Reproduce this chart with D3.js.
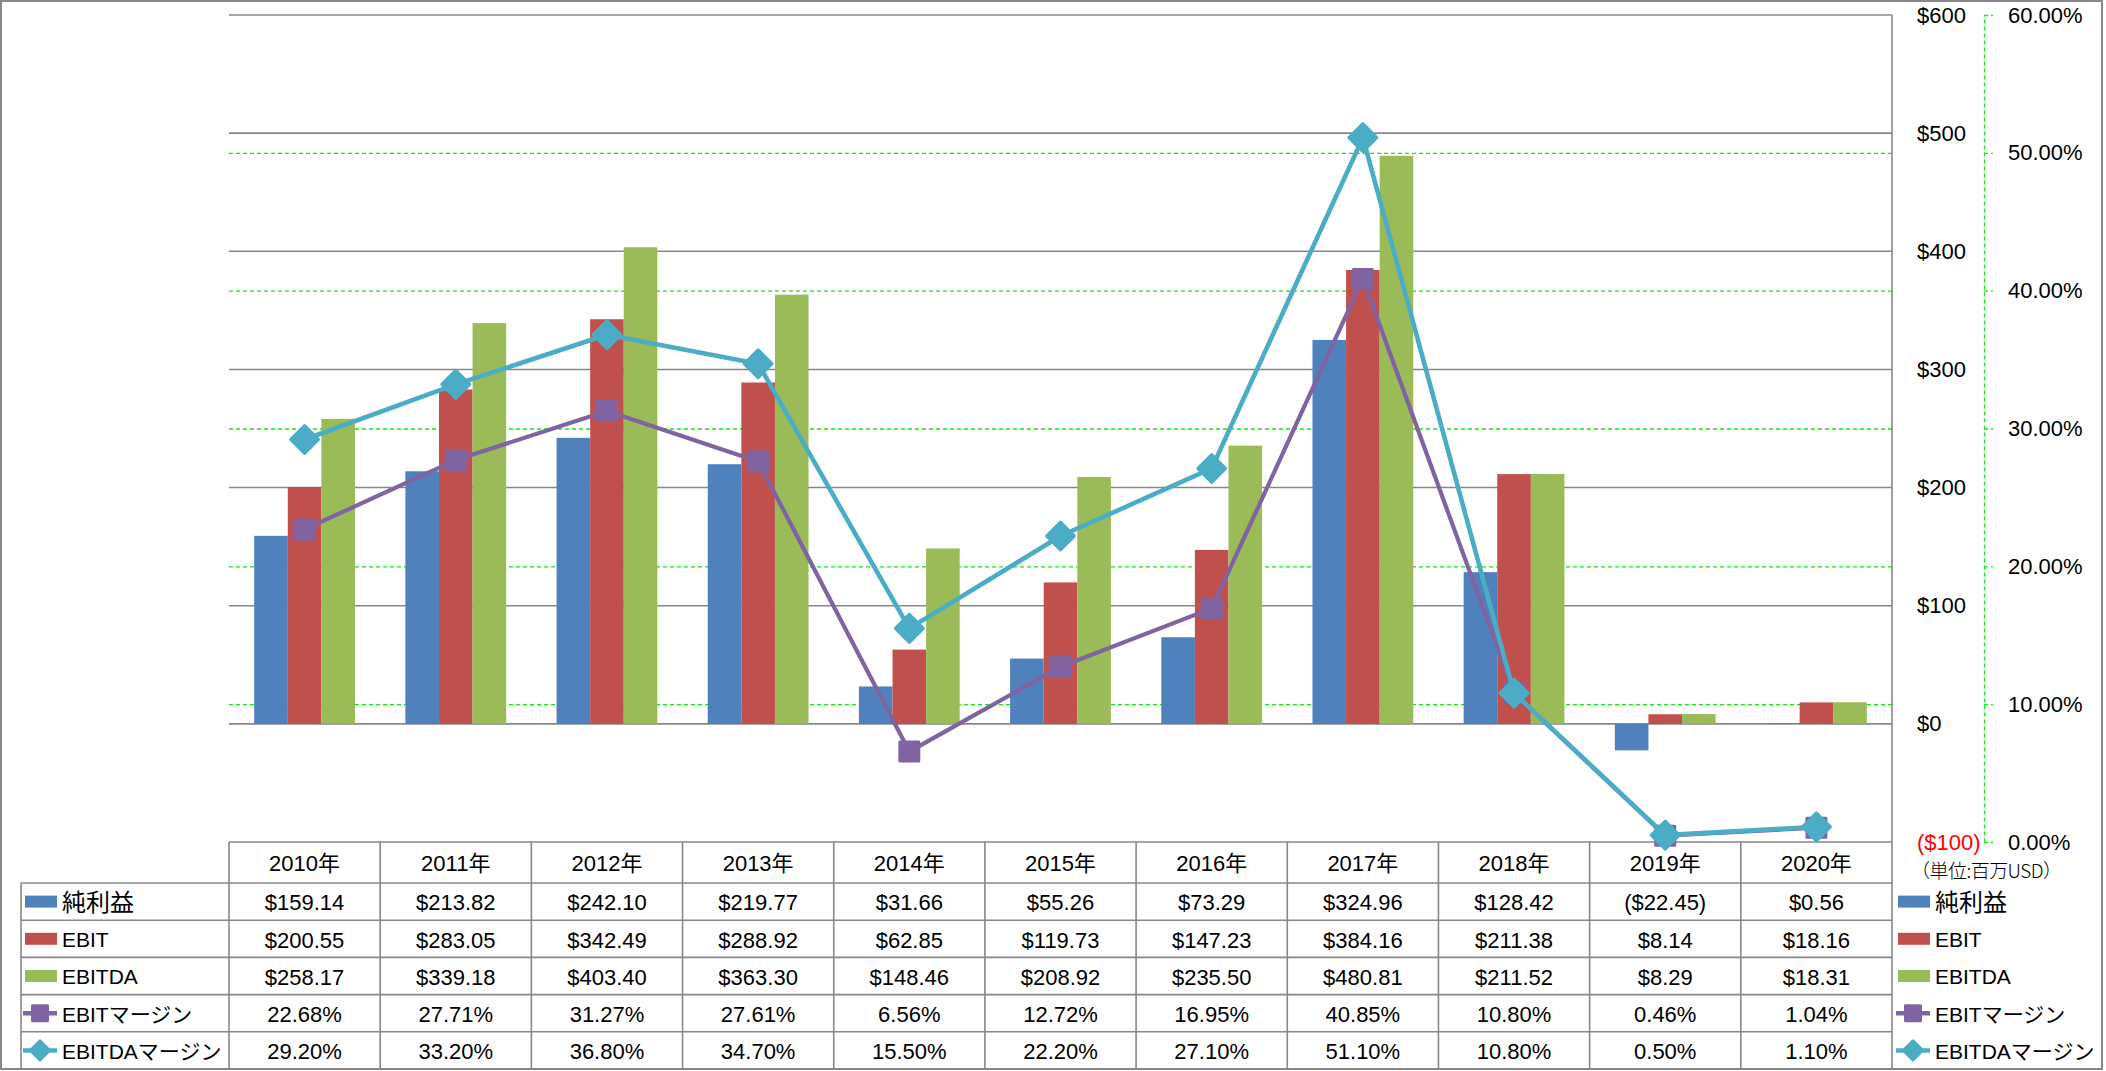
<!DOCTYPE html>
<html><head><meta charset="utf-8">
<script src="https://cdn.jsdelivr.net/npm/d3@7"></script>
<style>
html,body{margin:0;padding:0;background:#fff;}
svg text{font-family:"Liberation Sans","Noto Sans CJK JP",sans-serif;fill:#000;}
</style></head><body>
<svg id="chart" width="2106" height="1071"></svg>
<script>
// ---- data ----
const years = ["2010年","2011年","2012年","2013年","2014年","2015年","2016年","2017年","2018年","2019年","2020年"];
const netIncome = [159.14, 213.82, 242.10, 219.77, 31.66, 55.26, 73.29, 324.96, 128.42, -22.45, 0.56];
const ebit = [200.55, 283.05, 342.49, 288.92, 62.85, 119.73, 147.23, 384.16, 211.38, 8.14, 18.16];
const ebitda = [258.17, 339.18, 403.40, 363.30, 148.46, 208.92, 235.50, 480.81, 211.52, 8.29, 18.31];
const ebitMargin = [22.68, 27.71, 31.27, 27.61, 6.56, 12.72, 16.95, 40.85, 10.80, 0.46, 1.04];
const ebitdaMargin = [29.20, 33.20, 36.80, 34.70, 15.50, 22.20, 27.10, 51.10, 10.80, 0.50, 1.10];
const dollarTicks = [-100, 0, 100, 200, 300, 400, 500, 600];
const pctTicks = [0, 10, 20, 30, 40, 50, 60];
const seriesNames = ["純利益", "EBIT", "EBITDA", "EBITマージン", "EBITDAマージン"];
const unitLabel = "（単位:百万USD）";

// ---- styles ----
const colors = ["#4F81BD", "#C0504D", "#9BBB59", "#8064A2", "#4BACC6"];
const gridGray = "#878787";
const dashGreen = "#11e611";
const FS = 22;

const W = 2106, H = 1071;
const plotL = 229, plotR = 1892, plotT = 15, plotB = 842;
const headerB = 883, tableB = 1069, legendL = 21;
const rowH = (tableB - headerB) / 5;

const svg = d3.select("#chart");
svg.append("rect").attr("width", W).attr("height", H).attr("fill", "#fff");

const x = d3.scaleBand().domain(years).range([plotL, plotR]).paddingInner(0).paddingOuter(0);
const barSeries = [netIncome, ebit, ebitda];
const xs = d3.scaleBand().domain([0, 1, 2]).range([0, x.bandwidth()]).paddingInner(0).paddingOuter(0.75);
const yL = d3.scaleLinear().domain([-100, 600]).range([plotB, plotT]);
const yR = d3.scaleLinear().domain([0, 60]).range([plotB, plotT]);

// green dashed percent gridlines
svg.append("g").selectAll("line").data(pctTicks.filter(d => d > 0 && d < 60)).join("line")
  .attr("x1", plotL).attr("x2", plotR)
  .attr("y1", d => yR(d) + 0.5).attr("y2", d => yR(d) + 0.5)
  .attr("stroke", dashGreen).attr("stroke-width", 1.3).attr("stroke-dasharray", "4,3");

// gray dollar gridlines
svg.append("g").selectAll("line").data(dollarTicks).join("line")
  .attr("x1", plotL).attr("x2", plotR)
  .attr("y1", d => yL(d)).attr("y2", d => yL(d))
  .attr("stroke", gridGray).attr("stroke-width", 1.6);

// table lines
const tl = svg.append("g").attr("stroke", gridGray).attr("stroke-width", 1.6);
d3.range(6).forEach(i => {
  const yy = headerB + i * rowH;
  tl.append("line").attr("x1", legendL).attr("x2", plotR).attr("y1", yy).attr("y2", yy);
});
years.forEach(yr => {
  tl.append("line").attr("x1", x(yr)).attr("x2", x(yr)).attr("y1", plotB).attr("y2", tableB);
});
tl.append("line").attr("x1", legendL).attr("x2", legendL).attr("y1", headerB).attr("y2", tableB);
tl.append("line").attr("x1", plotR).attr("x2", plotR).attr("y1", plotT).attr("y2", tableB);

// outer border
svg.append("rect").attr("x", 1).attr("y", 1).attr("width", 2101).attr("height", 1068)
  .attr("fill", "none").attr("stroke", gridGray).attr("stroke-width", 2);

// bars
barSeries.forEach((vals, si) => {
  svg.append("g").selectAll("rect").data(vals).join("rect")
    .attr("x", (d, i) => x(years[i]) + xs(si))
    .attr("width", xs.bandwidth())
    .attr("y", d => yL(Math.max(0, d)))
    .attr("height", d => Math.abs(yL(d) - yL(0)))
    .attr("fill", colors[si]);
});

// lines + markers
const cx = i => x(years[i]) + x.bandwidth() / 2;
function squarePath(s) { return `M${-s},${-s}H${s}V${s}H${-s}Z`; }
function diamondPath(s) { return `M0,${-s}L${s},0L0,${s}L${-s},0Z`; }
function drawLineSeries(vals, color, markerPath, sw) {
  const g = svg.append("g");
  g.append("path").datum(vals)
    .attr("d", d3.line().x((d, i) => cx(i)).y(d => yR(d)))
    .attr("fill", "none").attr("stroke", color).attr("stroke-width", sw)
    .attr("stroke-linejoin", "round");
  g.selectAll("path.m").data(vals).join("path").attr("class", "m")
    .attr("transform", (d, i) => `translate(${cx(i)},${yR(d)})`)
    .attr("d", markerPath)
    .attr("fill", color).attr("stroke", color).attr("stroke-width", 3)
    .attr("stroke-linejoin", "round");
}
drawLineSeries(ebitMargin, colors[3], squarePath(9.5), 4.2);
drawLineSeries(ebitdaMargin, colors[4], diamondPath(14), 4.6);

// dollar axis (right of plot)
const axL = svg.append("g").attr("transform", `translate(${plotR},0)`)
  .call(d3.axisRight(yL).tickValues(dollarTicks).tickSize(0).tickPadding(25)
    .tickFormat(d => d < 0 ? `($${Math.abs(d)})` : `$${d}`));
axL.select(".domain").remove();
axL.selectAll("text").attr("font-size", FS).attr("font-family", null)
  .style("fill", d => d < 0 ? "#ff0000" : "#000");

// percent axis
const axR = svg.append("g").attr("transform", `translate(1984,0)`)
  .call(d3.axisRight(yR).tickValues(pctTicks).tickSize(9).tickSizeOuter(0).tickPadding(15)
    .tickFormat(d => d.toFixed(2) + "%"));
axR.select(".domain").attr("stroke", dashGreen).attr("stroke-width", 1.3).attr("stroke-dasharray", "4,3");
axR.selectAll(".tick line").attr("stroke", dashGreen).attr("stroke-width", 1.3).attr("stroke-dasharray", "4,3");
axR.selectAll("text").attr("font-size", FS).attr("font-family", null);

// unit label
svg.append("text").attr("x", 1911).attr("y", 871).attr("dy", "0.35em")
  .attr("font-size", 19).attr("textLength", 151).attr("lengthAdjust", "spacing")
  .style("font-family", "'Noto Sans CJK JP',sans-serif").style("font-weight", 300)
  .text(unitLabel);

// table header
svg.append("g").selectAll("text").data(years).join("text")
  .attr("x", d => x(d) + x.bandwidth() / 2).attr("y", (plotB + headerB) / 2 + 1).attr("dy", "0.35em")
  .attr("text-anchor", "middle").attr("font-size", FS).text(d => d);

// table values
const fmtMoney = v => v < 0 ? `($${Math.abs(v).toFixed(2)})` : `$${v.toFixed(2)}`;
const fmtPct = v => v.toFixed(2) + "%";
const tableRows = [
  netIncome.map(fmtMoney), ebit.map(fmtMoney), ebitda.map(fmtMoney),
  ebitMargin.map(fmtPct), ebitdaMargin.map(fmtPct)
];
tableRows.forEach((row, ri) => {
  const cy = headerB + (ri + 0.5) * rowH;
  svg.append("g").selectAll("text").data(row).join("text")
    .attr("x", (d, i) => cx(i)).attr("y", cy + 1).attr("dy", "0.35em")
    .attr("text-anchor", "middle").attr("font-size", FS).text(d => d);
});

// legend symbol
function legendItem(x0, cy, si) {
  const g = svg.append("g");
  if (si < 3) {
    g.append("rect").attr("x", x0).attr("y", cy - 6).attr("width", 32).attr("height", 12).attr("fill", colors[si]);
  } else {
    g.append("line").attr("x1", x0 - 2).attr("x2", x0 + 32).attr("y1", cy).attr("y2", cy)
      .attr("stroke", colors[si]).attr("stroke-width", 4.5);
    g.append("path").attr("transform", `translate(${x0 + 15},${cy})`)
      .attr("d", si === 3 ? squarePath(7.5) : diamondPath(9.5))
      .attr("fill", colors[si]).attr("stroke", colors[si]).attr("stroke-width", 3).attr("stroke-linejoin", "round");
  }
  g.append("text").attr("x", x0 + 37).attr("y", cy + 1).attr("dy", "0.35em")
    .attr("font-size", si === 0 ? 24 : 21).text(seriesNames[si]);
}
seriesNames.forEach((n, si) => {
  const cy = headerB + (si + 0.5) * rowH;
  legendItem(25, cy, si);
  legendItem(1898, cy, si);
});
</script>
</body></html>
